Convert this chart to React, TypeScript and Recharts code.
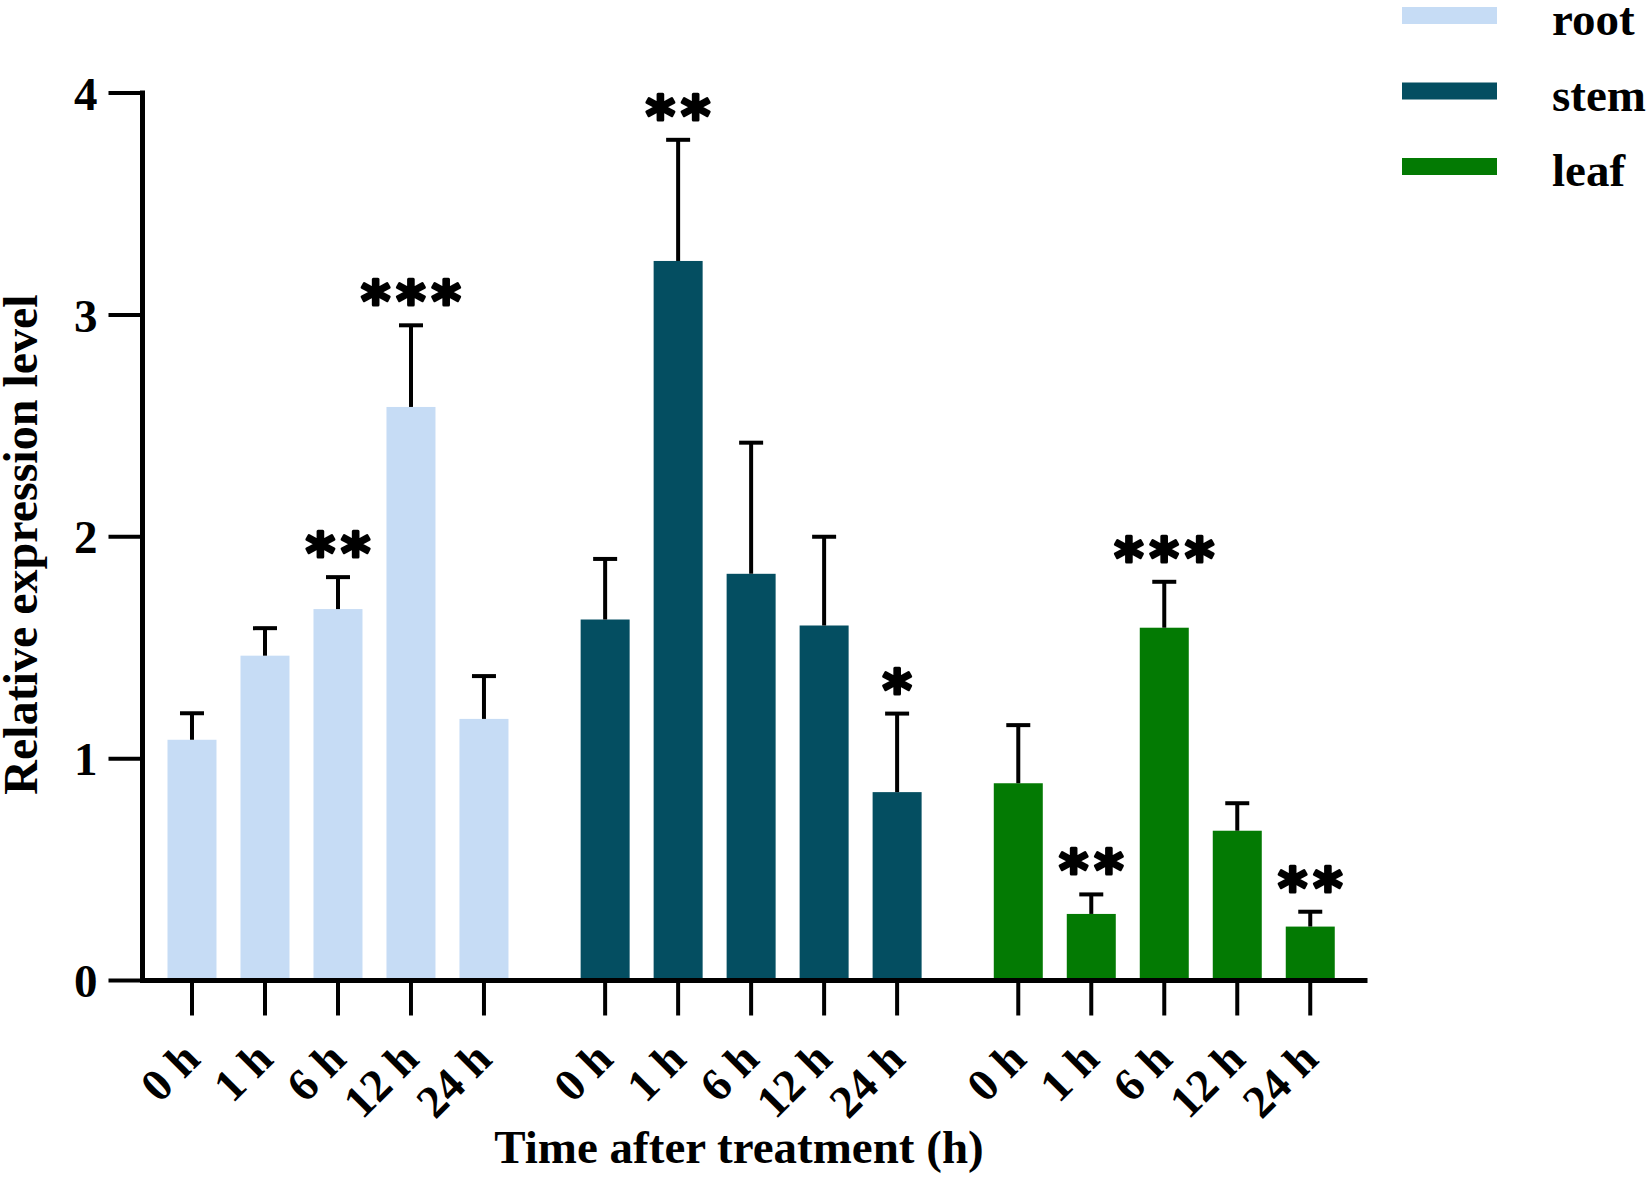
import { BarChart, Bar, XAxis, YAxis, Legend } from 'recharts'

const tissues = ['root', 'stem', 'leaf']
const tissueColors = ['#C6DCF5', '#044E61', '#037A03']
const times = ['0 h', '1 h', '6 h', '12 h', '24 h']

const rootMean = [1.085, 1.464, 1.674, 2.585, 1.179]
const rootErr = [0.12, 0.124, 0.144, 0.368, 0.193]
const rootSig = ['', '', '**', '***', '']

const stemMean = [1.627, 3.243, 1.833, 1.6, 0.849]
const stemErr = [0.273, 0.546, 0.591, 0.4, 0.354]
const stemSig = ['', '**', '', '', '*']

const leafMean = [0.889, 0.3, 1.59, 0.675, 0.243]
const leafErr = [0.262, 0.088, 0.207, 0.124, 0.067]
const leafSig = ['', '**', '***', '', '**']

const yTicks = [0, 1, 2, 3, 4]

// layout
const W = 1650
const H = 1177
const GROUP_GAP = 1.66 // gap between tissue groups, in bar slots
const SERIF = '"Liberation Serif", "Times New Roman", serif'
const STAR_FONT = '"DejaVu Sans", sans-serif'
const STAR_SPACING = 6

const means = [rootMean, stemMean, leafMean]
const errs = [rootErr, stemErr, leafErr]
const sigs = [rootSig, stemSig, leafSig]

const data = tissues.flatMap((t, g) =>
  times.map((time, i) => ({
    pos: g * (times.length - 1 + GROUP_GAP) + i,
    time,
    tissue: t,
    [t]: means[g][i],
    err: errs[g][i],
    sig: sigs[g][i],
  }))
)
const xTicks = data.map((d) => d.pos)
const xDomain = [xTicks[0] - 0.678, xTicks[xTicks.length - 1] + 0.75]

function BarWithError(props: any) {
  const { x, y, width, height, fill, payload, tissue } = props
  const v = payload[tissue]
  if (v == null || !height) return null
  const ppu = height / v
  const cx = x + width / 2
  const top = y - payload.err * ppu
  return (
    <g>
      <rect x={x} y={y} width={width} height={height} fill={fill} />
      <line x1={cx} y1={y} x2={cx} y2={top} stroke="#000" strokeWidth={4} />
      <line x1={cx - 12} y1={top} x2={cx + 12} y2={top} stroke="#000" strokeWidth={4} />
      {payload.sig && (
        <text
          x={cx + STAR_SPACING / 2}
          y={top - 5}
          textAnchor="middle"
          fontFamily={STAR_FONT}
          fontWeight="bold"
          fontSize={56}
          letterSpacing={STAR_SPACING}
          fill="#000"
          stroke="#000"
          strokeWidth={3}
          strokeLinejoin="round"
        >
          {payload.sig}
        </text>
      )}
    </g>
  )
}

function XTick(props: any) {
  const { x, y, payload } = props
  const row = data.find((d) => d.pos === payload.value)
  return (
    <text
      transform={`translate(${x + 10},${y + 44}) rotate(-45)`}
      textAnchor="end"
      fontFamily={SERIF}
      fontWeight="bold"
      fontSize={46}
      fill="#000"
    >
      {row ? row.time : ''}
    </text>
  )
}

function LegendBox(props: any) {
  const payload = props.payload || []
  return (
    <svg width={250} height={200}>
      {tissues.map((t, i) => {
        const item = payload.find((p: any) => p.value === t)
        return (
          <g key={t}>
            <rect x={2} y={7 + i * 75.5} width={95} height={17} fill={item ? item.color : tissueColors[i]} />
            <text x={152} y={35 + i * 75.5} fontFamily={SERIF} fontWeight="bold" fontSize={47} fill="#000">
              {t}
            </text>
          </g>
        )
      })}
    </svg>
  )
}

export default function App() {
  return (
    <div style={{ position: 'absolute', left: 0, top: 0, width: W, height: H, background: '#fff' }}>
      <BarChart width={W} height={H} data={data} margin={{ top: 93, right: 285, bottom: 0, left: 0 }}>
        <YAxis
          type="number"
          domain={[0, 4]}
          ticks={yTicks}
          width={142.5}
          tickSize={34}
          tickMargin={11}
          axisLine={{ stroke: '#000', strokeWidth: 5, strokeLinecap: 'square' }}
          tickLine={{ stroke: '#000', strokeWidth: 4 }}
          tick={{ fontFamily: SERIF, fontWeight: 'bold', fontSize: 47, fill: '#000' }}
          label={{
            content: () => (
              <text
                transform="translate(37,544.5) rotate(-90)"
                textAnchor="middle"
                fontFamily={SERIF}
                fontWeight="bold"
                fontSize={48}
                fill="#000"
              >
                Relative expression level
              </text>
            ),
          }}
        />
        <XAxis
          type="number"
          dataKey="pos"
          domain={xDomain}
          allowDataOverflow
          ticks={xTicks}
          interval={0}
          height={196.5}
          tickSize={35}
          axisLine={{ stroke: '#000', strokeWidth: 5, strokeLinecap: 'square' }}
          tickLine={{ stroke: '#000', strokeWidth: 4 }}
          tick={<XTick />}
          label={{
            content: () => (
              <text x={739} y={1163} textAnchor="middle" fontFamily={SERIF} fontWeight="bold" fontSize={47} fill="#000">
                Time after treatment (h)
              </text>
            ),
          }}
        />
        <Legend
          layout="vertical"
          align="center"
          verticalAlign="middle"
          wrapperStyle={{ left: 1400, top: 0, width: 250, height: 200 }}
          content={<LegendBox />}
        />
        {tissues.map((t, i) => (
          <Bar
            key={t}
            dataKey={t}
            name={t}
            stackId="all"
            fill={tissueColors[i]}
            barSize={49}
            isAnimationActive={false}
            shape={(p: any) => <BarWithError {...p} tissue={t} />}
          />
        ))}
      </BarChart>
    </div>
  )
}
